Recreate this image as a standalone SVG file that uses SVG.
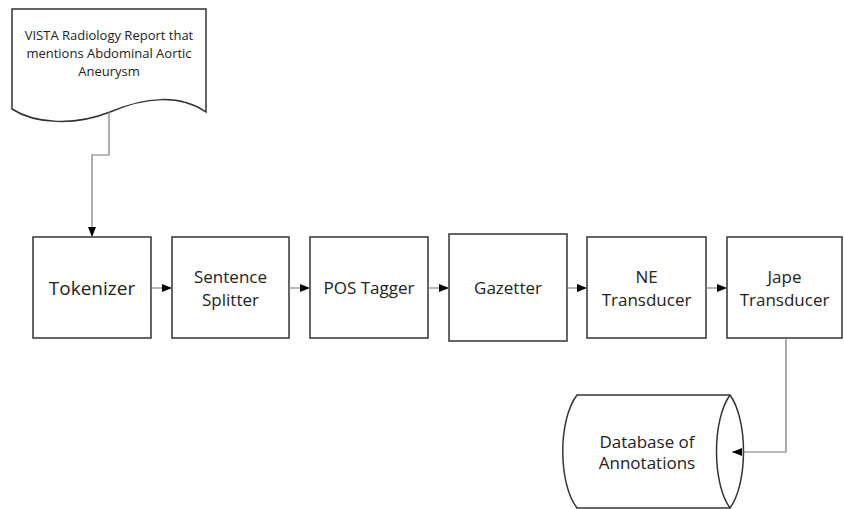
<svg xmlns="http://www.w3.org/2000/svg" width="844" height="509" viewBox="0 0 844 509">
<defs>
<marker id="ah" markerWidth="10" markerHeight="8" refX="10" refY="4" orient="auto" markerUnits="userSpaceOnUse">
<path d="M0,0 L10,4 L0,8 Z" fill="#000"/>
</marker>
<style>
.box{fill:#fff;stroke:#333;stroke-width:1.5}
.t{font-family:"Open Sans","Liberation Sans",sans-serif;fill:#222;text-anchor:middle}
.big{font-size:19px}
.mid{font-size:17px}
.sm{font-size:13px}
.c{fill:none;stroke:#888;stroke-width:1.2}
</style>
</defs>
<rect width="844" height="509" fill="#fff"/>
<g id="report">
<path class="box" d="M12,9 H206 V112 C180,94 145,97 110,112 C75,126 35,124 12,109 Z"/>
<text class="t sm" x="109" y="40">VISTA Radiology Report that</text>
<text class="t sm" x="109" y="58">mentions Abdominal Aortic</text>
<text class="t sm" x="109" y="76">Aneurysm</text>
</g>
<g id="tokenizer">
<rect class="box" x="33" y="237" width="118" height="101"/>
<text class="t big" x="92" y="295">Tokenizer</text>
</g>
<g id="splitter">
<rect class="box" x="172" y="237" width="117" height="101"/>
<text class="t mid" x="230.5" y="283">Sentence</text>
<text class="t mid" x="230.5" y="306">Splitter</text>
</g>
<g id="pos">
<rect class="box" x="310" y="237" width="118" height="101"/>
<text class="t mid" x="369" y="294">POS Tagger</text>
</g>
<g id="gazetter">
<rect class="box" x="449" y="234" width="118" height="107"/>
<text class="t mid" x="508" y="294">Gazetter</text>
</g>
<g id="ne">
<rect class="box" x="587" y="237" width="119" height="101"/>
<text class="t mid" x="646.5" y="283">NE</text>
<text class="t mid" x="646.5" y="306">Transducer</text>
</g>
<g id="jape">
<rect class="box" x="727" y="237" width="115" height="101"/>
<text class="t mid" x="784.5" y="283">Jape</text>
<text class="t mid" x="784.5" y="306">Transducer</text>
</g>
<g id="database">
<path class="box" d="M577,395 H730 C748,420 748,483 730,508 H577 C558,483 558,420 577,395 Z"/>
<path fill="none" stroke="#333" stroke-width="1.5" d="M730,395 C712,420 712,483 730,508"/>
<text class="t mid" x="647" y="448">Database of</text>
<text class="t mid" x="647" y="469">Annotations</text>
</g>
<g id="connectors">
<path class="c" d="M109,112 V155 H92 V237" marker-end="url(#ah)" style="stroke:#777"/>
<path class="c" d="M151,288 H172" marker-end="url(#ah)"/>
<path class="c" d="M289,288 H310" marker-end="url(#ah)"/>
<path class="c" d="M428,288 H449" marker-end="url(#ah)"/>
<path class="c" d="M567,288 H587" marker-end="url(#ah)"/>
<path class="c" d="M706,288 H727" marker-end="url(#ah)"/>
<path class="c" d="M786,338 V452 H732" marker-end="url(#ah)" style="stroke:#777"/>
</g>
</svg>
